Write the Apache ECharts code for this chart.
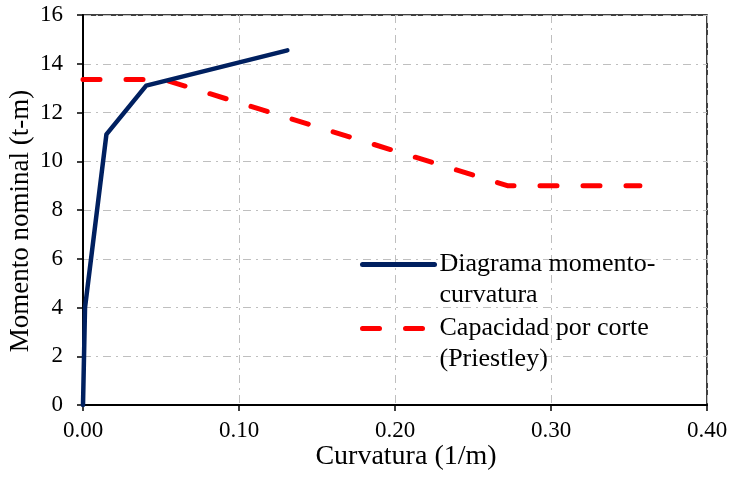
<!DOCTYPE html>
<html>
<head>
<meta charset="utf-8">
<script src="https://cdn.jsdelivr.net/npm/echarts@6/dist/echarts.min.js"></script>
<style>
html,body{margin:0;padding:0;background:#fff;}
#chart{width:731px;height:477px;}
</style>
</head>
<body>
<div id="chart"></div>
<script>
// Data
var seriesNames = ['Diagrama momento-\ncurvatura', 'Capacidad por corte\n(Priestley)'];
var curvMC = [0, 0.0013, 0.015, 0.0405, 0.131];
var momMC = [0, 4.0, 11.1, 13.1, 14.55];
var curvShear = [0, 0.052, 0.272, 0.357];
var momShear = [13.35, 13.35, 9.0, 9.0];
var xTicks = [0, 0.1, 0.2, 0.3, 0.4];
var yTicks = [0, 2, 4, 6, 8, 10, 12, 14, 16];

var FONT = '"Liberation Serif","Times New Roman",serif';
function pairs(xs, ys){ return xs.map(function(x,i){ return [x, ys[i]]; }); }

var chart = echarts.init(document.getElementById('chart'), null, {renderer:'canvas'});
var gridLine = {show:true, lineStyle:{color:'#bfbfbf', width:1, type:[8,5,2,5]}};
chart.setOption({
  animation:false,
  backgroundColor:'#ffffff',
  grid:{left:83, top:15, right:24, bottom:72, show:true, borderColor:'#000', borderWidth:1.5,
        backgroundColor:'transparent', containLabel:false, outerBoundsMode:'none'},
  xAxis:{
    type:'value', min:xTicks[0], max:xTicks[xTicks.length-1], interval:0.1,
    name:'Curvatura (1/m)', nameLocation:'middle', nameGap:38, nameMoveOverlap:false,
    nameTextStyle:{fontFamily:FONT, fontSize:28, color:'#000', padding:[0,0,0,22]},
    axisLine:{show:true, onZero:false, lineStyle:{color:'#000', width:2}},
    axisTick:{show:true, inside:false, length:6, lineStyle:{color:'#000', width:1.5}},
    axisLabel:{fontFamily:FONT, fontSize:23, color:'#000', margin:14,
      formatter:function(v){return v.toFixed(2);}},
    splitLine:gridLine
  },
  yAxis:{
    type:'value', min:yTicks[0], max:yTicks[yTicks.length-1], interval:2,
    name:'Momento nominal (t-m)', nameLocation:'middle', nameGap:49, nameMoveOverlap:false,
    nameTextStyle:{fontFamily:FONT, fontSize:27, color:'#000', padding:[0,22,0,0]},
    axisLine:{show:true, onZero:false, lineStyle:{color:'#000', width:2}},
    axisTick:{show:true, inside:false, length:6, lineStyle:{color:'#000', width:1.5}},
    axisLabel:{fontFamily:FONT, fontSize:23, color:'#000', margin:20},
    splitLine:gridLine
  },
  legend:{
    left:360, top:218, orient:'vertical', padding:0, itemGap:-29,
    itemWidth:72, itemHeight:5,
    itemStyle:{opacity:0},
    lineStyle:{width:5, cap:'round'},
    textStyle:{fontFamily:FONT, fontSize:26, color:'#000', lineHeight:31},
    formatter:function(name){ return '\n' + name; },
    data:[seriesNames[0], seriesNames[1]]
  },
  series:[
    {name:seriesNames[0], type:'line', data:pairs(curvMC, momMC), showSymbol:false, symbol:'none',
     lineStyle:{color:'#002060', width:4.5, cap:'round', join:'round'}, itemStyle:{color:'#002060'}, z:3},
    {name:seriesNames[1], type:'line', data:pairs(curvShear, momShear), showSymbol:false, symbol:'none',
     lineStyle:{color:'#ff0000', width:5, type:[17,26], cap:'round', join:'round'}, itemStyle:{color:'#ff0000'}, z:2}
  ]
});
</script>
</body>
</html>
